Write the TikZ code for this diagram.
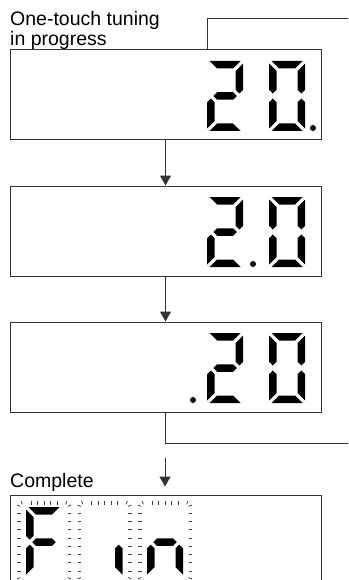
\documentclass[tikz,border=0pt]{standalone}
\usepackage{fontspec}
\setmainfont{Liberation Sans}
\usetikzlibrary{arrows.meta}
\newcommand{\sega}{(2.5,0) -- (33.5,0) -- (26,7.5) -- (10,7.5) -- cycle}
\newcommand{\segb}{(36,2.5) -- (36,28.75) -- (32.25,32.5) -- (28.5,28.75) -- (28.5,10) -- cycle}
\newcommand{\segc}{(36,41.25) -- (32.25,37.5) -- (28.5,41.25) -- (28.5,60) -- (36,67.5) -- cycle}
\newcommand{\segd}{(2.5,70) -- (33.5,70) -- (26,62.5) -- (10,62.5) -- cycle}
\newcommand{\sege}{(0,41.25) -- (3.75,37.5) -- (7.5,41.25) -- (7.5,60) -- (0,67.5) -- cycle}
\newcommand{\segf}{(0,2.5) -- (7.5,10) -- (7.5,28.75) -- (3.75,32.5) -- (0,28.75) -- cycle}
\newcommand{\segg}{(6.25,35) -- (10,31.25) -- (26,31.25) -- (29.75,35) -- (26,38.75) -- (10,38.75) -- cycle}
\newcommand{\lcddigit}[3]{\begin{scope}[shift={(#1,#2)}]
\foreach \s in {#3}{\expandafter\fill\csname seg\s\endcsname;}
\end{scope}}
\newcommand{\ghostframe}[2]{\begin{scope}[shift={(#1,#2)}, ghost]
\foreach \tx in {5,11.5,18,24.5,31}{\draw (\tx,-6) -- (\tx,-2.5); \draw (\tx,76) -- (\tx,72.5);}
\foreach \ty in {6,14.3,22.6,30.9,39.1,47.4,55.7,64}{\draw (-9,\ty) -- (-5.5,\ty); \draw (45,\ty) -- (41.5,\ty);}
\foreach \cx/\cy/\ca in {-2/1/225,38/1/315,-2/69/135,38/69/45}{\foreach \da in {-22,22}{\draw (\cx,\cy) ++(\ca+\da:4) -- ++(\ca+\da:3.5);}}
\end{scope}}
\begin{document}
\begin{tikzpicture}[x=1pt,y=-1pt,
lcdbox/.style={draw=black!80, line width=1pt, minimum width=311pt, minimum height=90pt, inner sep=0pt},
flow/.style={draw=black!80, line width=1pt, -{Triangle[width=11pt,length=10pt]}},
link/.style={draw=black!80, line width=1pt},
lbl/.style={anchor=base west, inner sep=0pt, font=\fontsize{19.5}{21}\selectfont},
ghost/.style={black!75, line width=0.8pt}]
\useasboundingbox (0,0) rectangle (348,580);
\clip (0,0) rectangle (348,580);
\node[lbl] (tune1) at (10,26) {One-touch tuning};
\node[lbl] (tune2) at (10,46) {in progress};
\node[lcdbox] (lcd1) at (165.5,95) {};
\node[lcdbox] (lcd2) at (165.5,231) {};
\node[lcdbox] (lcd3) at (165.5,367) {};
\node[lbl] (done) at (10,487) {Complete};
\node[lcdbox] (lcd4) at (165.5,540) {};
\lcddigit{207}{61}{a,b,g,e,d}
\lcddigit{269}{61}{a,b,c,d,e,f}
\fill (313,128) circle (3);
\lcddigit{207}{197}{a,b,g,e,d}
\lcddigit{269}{197}{a,b,c,d,e,f}
\fill (253,264) circle (3);
\lcddigit{207}{333}{a,b,g,e,d}
\lcddigit{269}{333}{a,b,c,d,e,f}
\fill (193,400) circle (3);
\ghostframe{26}{507}
\ghostframe{86.5}{507}
\ghostframe{147}{507}
\lcddigit{26}{507}{a,f,g,e}
\lcddigit{86.5}{507}{c}
\lcddigit{147}{507}{c,e,g}
\coordinate (tap) at (207,19);
\coordinate (retA) at (348,19);
\coordinate (retB) at (348,443);
\coordinate (fin) at (165,458);
\draw[flow] (lcd1.south) -- (lcd2.north);
\draw[flow] (lcd2.south) -- (lcd3.north);
\draw[link] (tap |- lcd1.north) |- (retA);
\draw[link] (lcd3.south) |- (retB);
\draw[flow, shorten >=8pt] (fin) -- (fin |- lcd4.north);
\end{tikzpicture}
\end{document}
